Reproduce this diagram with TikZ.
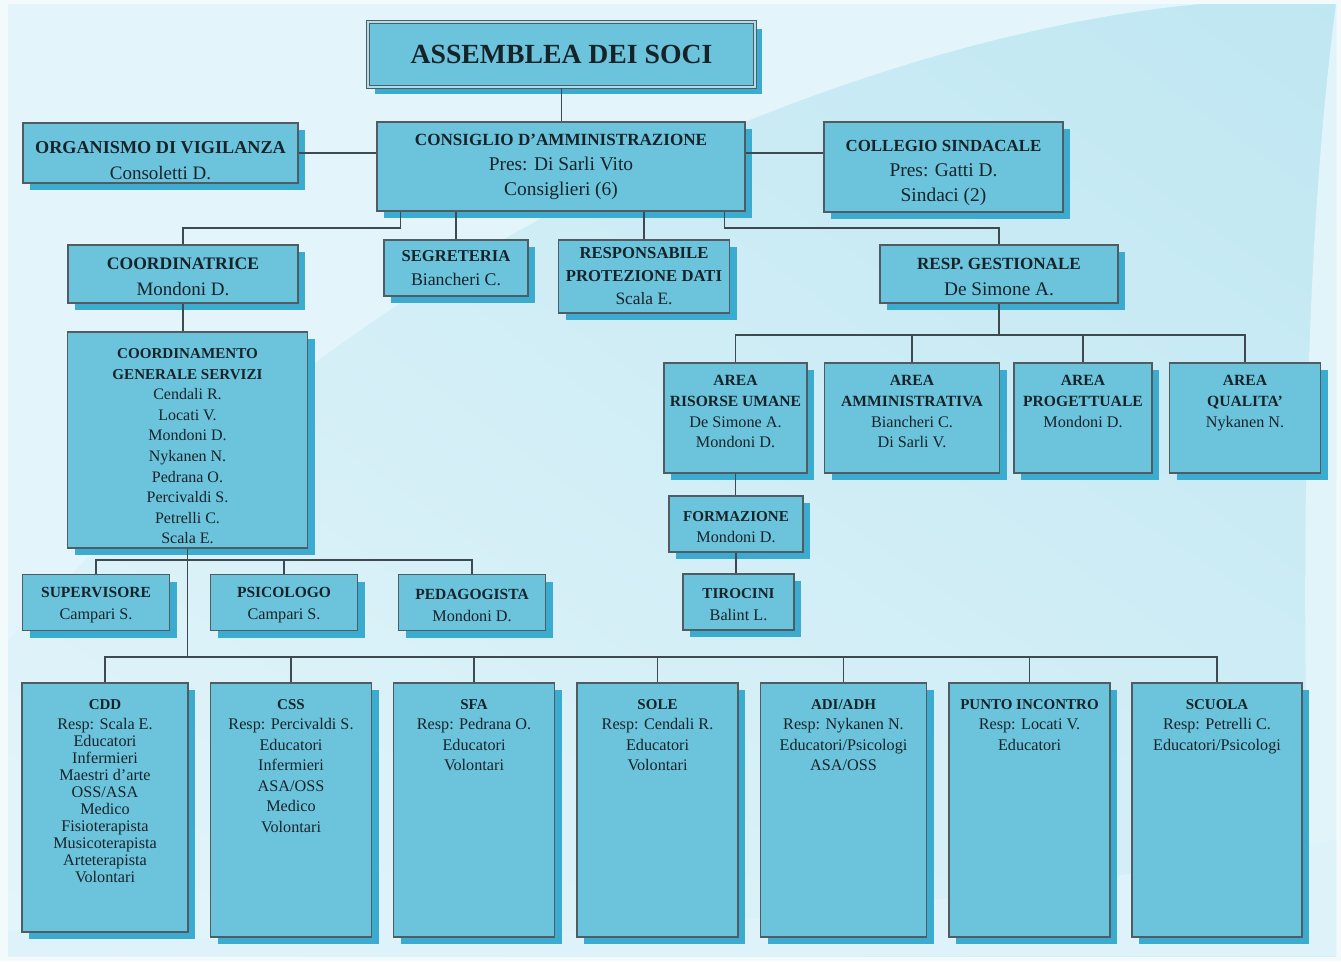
\documentclass[tikz,border=0pt]{standalone}
\usepackage{fontspec}
\setmainfont{Liberation Serif}
\usetikzlibrary{positioning,shadows,shadings}

\definecolor{boxfill}{HTML}{6CC3DC}
\definecolor{boxshade}{HTML}{3BABCF}
\definecolor{boxline}{HTML}{505C61}
\definecolor{wirecol}{HTML}{3E4A4F}
\definecolor{ink}{HTML}{16242A}
\definecolor{bgedge}{HTML}{F3FAFC}
\definecolor{bglight}{HTML}{E3F5FA}
\definecolor{bgmid}{HTML}{D3EEF6}
\definecolor{bgdark}{HTML}{BFE7F2}

% heading line inside a box: size, text
\newcommand{\head}[2]{{\fontsize{#1}{\baselineskip}\bfseries\selectfont #2}}

\tikzset{
  box/.style={draw=boxline, line width=1.3pt, fill=boxfill, inner sep=2pt,
    align=center, text=ink,
    drop shadow={shadow xshift=7pt, shadow yshift=-7pt, opacity=1, fill=boxshade}},
  txt/.style={align=center, text=ink, inner sep=0pt},
  wire/.style={draw=wirecol, line width=1.2pt},
}

\begin{document}
\begin{tikzpicture}[x=1pt,y=-1pt]
    \useasboundingbox (0,0) rectangle (1341,961);
    % background
    \fill[bgedge] (0,0) rectangle (1341,961);
    \shade[upper left=bgmid, upper right=bgdark, lower left=bglight, lower right=bgmid]
        (8,4) rectangle (1336,956);
    \fill[bglight] (8,4) -- (1200,4) .. controls (1000,22) and (700,110) .. (420,290)
        .. controls (250,400) and (120,520) .. (8,640) -- cycle;
    \fill[bglight!80!bgmid] (1336,4) .. controls (1310,200) and (1296,500) .. (1312,956) -- (1336,956) -- cycle;
    \fill[bglight!70!bgmid] (8,956) -- (8,930) .. controls (500,965) and (1000,900) .. (1336,840) -- (1336,956) -- cycle;

    % top
    \node[box, double=boxfill!55!white, double distance=2.5pt, line width=1pt,
        minimum width=387pt, minimum height=65pt,
        font=\fontsize{27.7}{30}\bfseries\selectfont] (soci) at (561.5,54.5) {ASSEMBLEA DEI SOCI};
    \node[box, minimum width=275pt, minimum height=60pt] (odv) at (160.5,153) {};
    \node[txt, font=\fontsize{19}{26}\selectfont] at ([yshift=-8pt]odv.center)
        {\head{18.2}{ORGANISMO DI VIGILANZA}\\Consoletti D.};
    \node[box, minimum width=368pt, minimum height=89pt, font=\fontsize{19.4}{25}\selectfont]
        (cda) at (561,166.5) {\head{17.1}{CONSIGLIO D’AMMINISTRAZIONE}\\Pres: Di Sarli Vito\\Consiglieri (6)};
    \node[box, minimum width=239pt, minimum height=90pt] (cs) at (943.5,167) {};
    \node[txt, font=\fontsize{19.4}{25}\selectfont] at ([yshift=-6pt]cs.center)
        {\head{16.9}{COLLEGIO SINDACALE}\\Pres: Gatti D.\\Sindaci (2)};

    % second row
    \node[box, minimum width=230pt, minimum height=58pt] (coord) at (183,274) {};
    \node[txt, font=\fontsize{19}{26}\selectfont] at ([yshift=-3pt]coord.center)
        {\head{17.6}{COORDINATRICE}\\Mondoni D.};
    \node[box, minimum width=144pt, minimum height=56pt, font=\fontsize{17.8}{24}\selectfont]
        (segr) at (456,268) {\head{16.6}{SEGRETERIA}\\Biancheri C.};
    \node[box, minimum width=171pt, minimum height=73pt, font=\fontsize{17.4}{23}\selectfont]
        (rpd) at (644,276.5) {\head{16.7}{RESPONSABILE}\\\head{16.7}{PROTEZIONE DATI}\\Scala E.};
    \node[box, minimum width=238pt, minimum height=58pt] (rg) at (999,274) {};
    \node[txt, font=\fontsize{19.3}{26}\selectfont] at ([yshift=-3pt]rg.center)
        {\head{17.1}{RESP. GESTIONALE}\\De Simone A.};

    % coordinamento
    \node[box, minimum width=240pt, minimum height=216pt] (cgs) at (187.5,440) {};
    \node[txt, below=17pt of cgs.north, font=\fontsize{16}{20.6}\selectfont]
        {\head{15.1}{COORDINAMENTO}\\\head{15.1}{GENERALE SERVIZI}\\Cendali R.\\Locati V.\\Mondoni D.\\Nykanen N.\\Pedrana O.\\Percivaldi S.\\Petrelli C.\\Scala E.};

    % aree
    \node[box, minimum width=143pt, minimum height=110pt] (aru) at (735.5,418) {};
    \node[box, minimum width=175pt, minimum height=110pt] (aam) at (912,418) {};
    \node[box, minimum width=138pt, minimum height=110pt] (apr) at (1083,418) {};
    \node[box, minimum width=151pt, minimum height=110pt] (aqu) at (1245,418) {};
    \node[txt, below=13pt of aru.north, font=\fontsize{16.2}{20.6}\selectfont]
        {\head{15.6}{AREA}\\\head{15.6}{RISORSE UMANE}\\De Simone A.\\Mondoni D.};
    \node[txt, below=13pt of aam.north, font=\fontsize{16.2}{20.6}\selectfont]
        {\head{15.6}{AREA}\\\head{15.6}{AMMINISTRATIVA}\\Biancheri C.\\Di Sarli V.};
    \node[txt, below=13pt of apr.north, font=\fontsize{16.2}{20.6}\selectfont]
        {\head{15.6}{AREA}\\\head{15.6}{PROGETTUALE}\\Mondoni D.};
    \node[txt, below=13pt of aqu.north, font=\fontsize{16.2}{20.6}\selectfont]
        {\head{15.6}{AREA}\\\head{15.6}{QUALITA’}\\Nykanen N.};

    \node[box, minimum width=134pt, minimum height=56pt] (form) at (736,524) {};
    \node[txt, font=\fontsize{16.2}{21}\selectfont] at ([yshift=-3pt]form.center)
        {\head{15.1}{FORMAZIONE}\\Mondoni D.};
    \node[box, minimum width=111pt, minimum height=56pt] (tir) at (738.5,602) {};
    \node[txt, font=\fontsize{16.2}{22}\selectfont] at ([yshift=-3pt]tir.center)
        {\head{15.1}{TIROCINI}\\Balint L.};

    % staff
    \node[box, minimum width=147pt, minimum height=56pt] (sup) at (96,602.5) {};
    \node[box, minimum width=147pt, minimum height=56pt] (psi) at (284,602.5) {};
    \node[box, minimum width=147pt, minimum height=56pt] (ped) at (472,602.5) {};
    \node[txt, font=\fontsize{16.2}{22}\selectfont] at ([yshift=-3pt]sup.center)
        {\head{15.5}{SUPERVISORE}\\Campari S.};
    \node[txt, font=\fontsize{16.2}{22}\selectfont] at ([yshift=-3pt]psi.center)
        {\head{15.5}{PSICOLOGO}\\Campari S.};
    \node[txt, font=\fontsize{16.2}{22}\selectfont] at ([yshift=-3pt]ped.center)
        {\head{15.5}{PEDAGOGISTA}\\Mondoni D.};

    % servizi
    \node[box, minimum width=166pt, minimum height=249pt] (cdd) at (105,807.5) {};
    \node[box, minimum width=161pt, minimum height=254pt] (css) at (291,810) {};
    \node[box, minimum width=161pt, minimum height=254pt] (sfa) at (474,810) {};
    \node[box, minimum width=161pt, minimum height=254pt] (sole) at (657.5,810) {};
    \node[box, minimum width=166pt, minimum height=254pt] (adi) at (843.5,810) {};
    \node[box, minimum width=161pt, minimum height=254pt] (pinc) at (1029.5,810) {};
    \node[box, minimum width=170pt, minimum height=254pt] (scu) at (1217,810) {};
    \node[txt, below=17pt of cdd.north, font=\fontsize{16.2}{17}\selectfont]
        {\head{15}{CDD}\\[3pt]Resp: Scala E.\\Educatori\\Infermieri\\Maestri d’arte\\OSS/ASA\\Medico\\Fisioterapista\\Musicoterapista\\Arteterapista\\Volontari};
    \node[txt, below=17pt of css.north, font=\fontsize{16.2}{20.5}\selectfont]
        {\head{15}{CSS}\\Resp: Percivaldi S.\\Educatori\\Infermieri\\ASA/OSS\\Medico\\Volontari};
    \node[txt, below=17pt of sfa.north, font=\fontsize{16.2}{20.5}\selectfont]
        {\head{15}{SFA}\\Resp: Pedrana O.\\Educatori\\Volontari};
    \node[txt, below=17pt of sole.north, font=\fontsize{16.2}{20.5}\selectfont]
        {\head{15}{SOLE}\\Resp: Cendali R.\\Educatori\\Volontari};
    \node[txt, below=17pt of adi.north, font=\fontsize{16.2}{20.5}\selectfont]
        {\head{15}{ADI/ADH}\\Resp: Nykanen N.\\Educatori/Psicologi\\ASA/OSS};
    \node[txt, below=17pt of pinc.north, font=\fontsize{16.2}{20.5}\selectfont]
        {\head{15}{PUNTO INCONTRO}\\Resp: Locati V.\\Educatori};
    \node[txt, below=17pt of scu.north, font=\fontsize{16.2}{20.5}\selectfont]
        {\head{15}{SCUOLA}\\Resp: Petrelli C.\\Educatori/Psicologi};

    % connectors
    \coordinate (busA) at (0,228);
    \coordinate (busB) at (0,335);
    \coordinate (busC) at (0,560);
    \coordinate (busD) at (0,657);
    \coordinate (cdaL) at ([xshift=24pt]cda.south west);
    \coordinate (cdaR) at ([xshift=-21pt]cda.south east);
    \draw[wire] (soci.south) -- (soci.south |- cda.north);
    \draw[wire] (odv.east) -- (odv.east -| cda.west);
    \draw[wire] (cda.east |- odv.east) -- (cs.west |- odv.east);
    \draw[wire] (cdaL) -- (cdaL |- busA) -| (coord.north);
    \draw[wire] (segr.north) -- (segr.north |- cda.south);
    \draw[wire] (rpd.north) -- (rpd.north |- cda.south);
    \draw[wire] (cdaR) -- (cdaR |- busA) -| (rg.north);
    \draw[wire] (coord.south) -- (coord.south |- cgs.north);
    \draw[wire] (rg.south) -- (rg.south |- busB);
    \draw[wire] (aru.north) -- (aru.north |- busB) -- (aqu.north |- busB) -- (aqu.north);
    \draw[wire] (aam.north) -- (aam.north |- busB);
    \draw[wire] (apr.north) -- (apr.north |- busB);
    \draw[wire] (aru.south) -- (aru.south |- form.north);
    \draw[wire] (form.south) -- (form.south |- tir.north);
    \draw[wire] (cgs.south) -- (cgs.south |- busD);
    \draw[wire] (sup.north) -- (sup.north |- busC) -- (ped.north |- busC) -- (ped.north);
    \draw[wire] (psi.north) -- (psi.north |- busC);
    \draw[wire] (cdd.north) -- (cdd.north |- busD) -- (scu.north |- busD) -- (scu.north);
    \foreach \s in {css,sfa,sole,adi,pinc}
        \draw[wire] (\s.north) -- (\s.north |- busD);
\end{tikzpicture}
\end{document}
